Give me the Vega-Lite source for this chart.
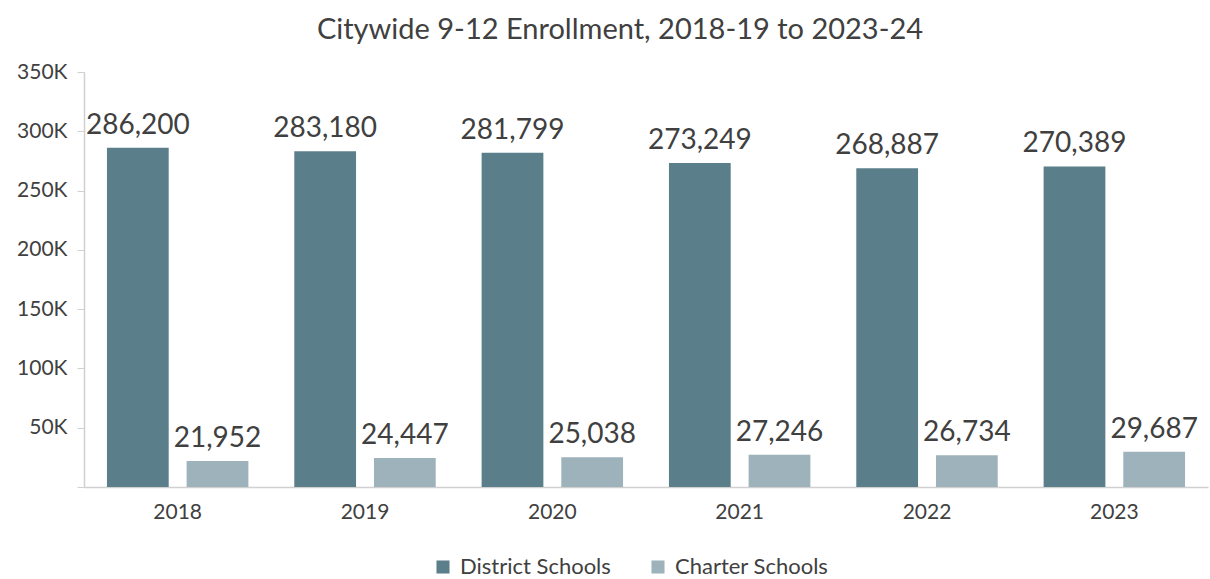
{
  "$schema": "https://vega.github.io/schema/vega-lite/v6.json",
  "autosize": {"type": "none"},
  "padding": {"left": 84, "top": 72, "right": 2, "bottom": 92},
  "width": 1124,
  "height": 415,
  "title": {
    "text": "Citywide 9-12 Enrollment, 2018-19 to 2023-24",
    "fontSize": 29,
    "font": "Lato",
    "fontWeight": "normal",
    "color": "#404040",
    "anchor": "middle",
    "dx": -26,
    "offset": 16
  },
  "data": {
    "values": [
      {"year": "2018", "type": "District Schools", "value": 286200},
      {"year": "2018", "type": "Charter Schools", "value": 21952},
      {"year": "2019", "type": "District Schools", "value": 283180},
      {"year": "2019", "type": "Charter Schools", "value": 24447},
      {"year": "2020", "type": "District Schools", "value": 281799},
      {"year": "2020", "type": "Charter Schools", "value": 25038},
      {"year": "2021", "type": "District Schools", "value": 273249},
      {"year": "2021", "type": "Charter Schools", "value": 27246},
      {"year": "2022", "type": "District Schools", "value": 268887},
      {"year": "2022", "type": "Charter Schools", "value": 26734},
      {"year": "2023", "type": "District Schools", "value": 270389},
      {"year": "2023", "type": "Charter Schools", "value": 29687}
    ]
  },
  "encoding": {
    "x": {
      "field": "year",
      "type": "nominal",
      "scale": {"paddingInner": 0.245, "paddingOuter": 0.1225},
      "axis": {
        "title": null,
        "labelAngle": 0,
        "ticks": false,
        "domainColor": "#d0d0d0",
        "domainWidth": 1.5,
        "labelFontSize": 21,
        "labelColor": "#404040",
        "labelPadding": 14
      }
    },
    "xOffset": {
      "field": "type",
      "type": "nominal",
      "sort": ["District Schools", "Charter Schools"],
      "scale": {"paddingInner": 0.225}
    },
    "y": {
      "field": "value",
      "type": "quantitative",
      "scale": {"domain": [0, 350000], "nice": false},
      "axis": {
        "title": null,
        "grid": false,
        "values": [0, 50000, 100000, 150000, 200000, 250000, 300000, 350000],
        "labelExpr": "datum.value == 0 ? '' : (datum.value / 1000) + 'K'",
        "domainColor": "#d0d0d0",
        "domainWidth": 1.5,
        "tickColor": "#d0d0d0",
        "tickSize": 7,
        "labelFontSize": 21,
        "labelColor": "#404040",
        "labelPadding": 10
      }
    }
  },
  "layer": [
    {
      "mark": {"type": "bar"},
      "encoding": {
        "color": {
          "field": "type",
          "type": "nominal",
          "sort": ["District Schools", "Charter Schools"],
          "scale": {
            "domain": ["District Schools", "Charter Schools"],
            "range": ["#5b7f8a", "#9db2ba"]
          },
          "legend": {
            "title": null,
            "orient": "none",
            "direction": "horizontal",
            "legendX": 348,
            "legendY": 484,
            "symbolType": "square",
            "symbolSize": 170,
            "symbolStrokeWidth": 0,
            "labelFontSize": 22,
            "labelColor": "#404040",
            "columnPadding": 36,
            "labelOffset": 6
          }
        }
      }
    },
    {
      "mark": {"type": "text", "baseline": "alphabetic", "dy": -14, "fontSize": 28, "color": "#404040"},
      "encoding": {
        "text": {"field": "value", "type": "quantitative", "format": ","}
      }
    }
  ],
  "config": {
    "view": {"stroke": null},
    "font": "Lato",
    "legend": {"labelFont": "Lato"},
    "axis": {"labelFont": "Lato"}
  }
}
